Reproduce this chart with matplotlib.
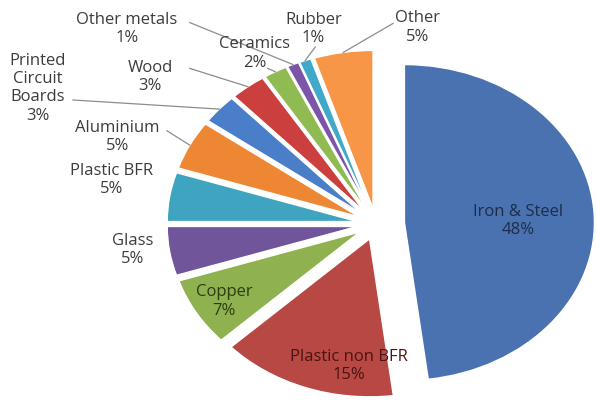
import numpy as np
import matplotlib.pyplot as plt

# share of materials (percent)
materials = ["Iron & Steel", "Plastic non BFR", "Copper", "Glass", "Plastic BFR",
             "Aluminium", "Printed\nCircuit\nBoards", "Wood", "Ceramics",
             "Other metals", "Rubber", "Other"]
shares = [48, 15, 7, 5, 5, 5, 3, 3, 2, 1, 1, 5]
colors = ["#4a72b0", "#b84843", "#8fb150", "#70559a", "#3fa4c0", "#ee8734",
          "#4a7ec8", "#cc3f3f", "#90bb52", "#7a55a8", "#40a8c8", "#f79646"]
explode = [0.15] + [0.1] * 11

# label placement (data coords) and where the leader starts (None = inside label)
label_pos = [(0.75, 0.02), (-0.14, -0.90), (-0.80, -0.49), (-1.28, -0.165),
             (-1.39, 0.28), (-1.36, 0.55), (-1.78, 0.86), (-1.19, 0.93),
             (-0.64, 1.08), (-1.31, 1.235), (-0.33, 1.235), (0.22, 1.245)]
leader_from = [None, None, None, None, None, (-1.10, 0.59), (-1.595, 0.785),
               (-0.98, 0.985), (-0.57, 0.985), (-0.98, 1.275), (-0.32, 1.12),
               (0.09, 1.27)]
inside_color = {0: "#1c2d4a", 1: "#4a1412", 2: "#2d3d10"}

plt.rcParams['font.family'] = ['Open Sans', 'DejaVu Sans']

fig = plt.figure(figsize=(5.96, 4.03), dpi=100)
ax = fig.add_axes([0, 0, 1, 1])
wedges, _ = ax.pie(shares, colors=colors, explode=explode, startangle=90,
                   counterclock=False, radius=1.0,
                   wedgeprops=dict(edgecolor="white", linewidth=1.0))

for i, w in enumerate(wedges):
    lx, ly = label_pos[i]
    txt = materials[i] + "\n" + str(shares[i]) + "%"
    col = inside_color.get(i, "#3c3c3c")
    ax.text(lx, ly, txt, ha="center", va="center", fontsize=12,
            color=col, linespacing=1.2)
    if leader_from[i] is not None:
        mid = np.deg2rad((w.theta1 + w.theta2) / 2)
        cx, cy = w.center
        ex, ey = cx + w.r * np.cos(mid), cy + w.r * np.sin(mid)
        sx, sy = leader_from[i]
        ax.plot([sx, ex], [sy, ey], color="#8c8c8c", lw=0.9)

ax.set_aspect("auto")
ax.set_xlim(-1.979, 1.158)
ax.set_ylim(-1.133, 1.418)
ax.axis("off")

fig.savefig("out.png", dpi=100)
